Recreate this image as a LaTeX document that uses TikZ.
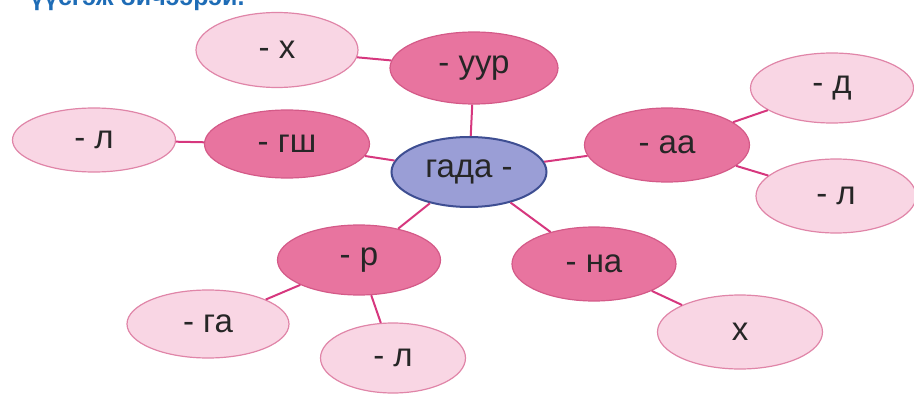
\documentclass[tikz,border=0pt]{standalone}
\usepackage{fontspec}
\setmainfont{Liberation Sans}
\usetikzlibrary{shapes.geometric}
\definecolor{midpink}{HTML}{E8749F}
\definecolor{midpinkB}{HTML}{D45A88}
\definecolor{litepink}{HTML}{F9D6E4}
\definecolor{litepinkB}{HTML}{E085A8}
\definecolor{cfill}{HTML}{9A9ED6}
\definecolor{cborder}{HTML}{3E4E92}
\definecolor{linkc}{HTML}{D6377E}
\definecolor{headc}{HTML}{1E6CB6}
\tikzset{
  bub/.style={ellipse, inner sep=0pt, line width=1.2pt, font=\fontsize{33}{38}\selectfont, text=black!85},
  mid/.style={bub, fill=midpink, draw=midpinkB},
  lite/.style={bub, fill=litepink, draw=litepinkB},
  ctr/.style={bub, fill=cfill, draw=cborder, line width=2pt},
  link/.style={draw=linkc, line width=2pt}
}
\begin{document}
\begin{tikzpicture}[x=1pt,y=-1pt]
\useasboundingbox (0,0) rectangle (914,396);
\clip (0,0) rectangle (914,396);
\node[anchor=base west, text=headc, font=\bfseries\fontsize{25}{28}\selectfont, inner sep=0pt] (head) at (30,6) {үүсгэж бичээрэй.};

\node[ctr, minimum width=155pt, minimum height=70pt] (c) at (469,172) {гада -};
\node[mid, minimum width=168pt, minimum height=72pt] (uur) at (474,68) {- уур};
\node[lite, minimum width=162pt, minimum height=75pt] (x1) at (277,50) {- х};
\node[mid, minimum width=165pt, minimum height=68pt] (gsh) at (287,144) {- гш};
\node[lite, minimum width=163pt, minimum height=64pt] (l1) at (94,140) {- л};
\node[mid, minimum width=165pt, minimum height=74pt] (aa) at (667,145) {- аа};
\node[lite, minimum width=163pt, minimum height=70pt] (d) at (832,88) {- д};
\node[lite, minimum width=160pt, minimum height=74pt] (l2) at (836,196) {- л};
\node[mid, minimum width=163pt, minimum height=70pt] (r) at (359,260) {- р};
\node[lite, minimum width=162pt, minimum height=68pt] (ga) at (208,324) {- га};
\node[lite, minimum width=145pt, minimum height=70pt] (l3) at (393,358) {- л};
\node[mid, minimum width=164pt, minimum height=74pt] (na) at (594,264) {- на};
\node[lite, minimum width=165pt, minimum height=74pt] (x2) at (740,332) {х};

\draw[link] (c) -- (uur);
\draw[link] (c) -- (gsh);
\draw[link] (c) -- (aa);
\draw[link] (c) -- (r);
\draw[link] (c) -- (na);
\draw[link] (uur) -- (x1);
\draw[link] (gsh) -- (l1);
\draw[link] (aa) -- (d);
\draw[link] (aa) -- (l2);
\draw[link] (r) -- (ga);
\draw[link] (r) -- (l3);
\draw[link] (na) -- (x2);
\end{tikzpicture}
\end{document}
